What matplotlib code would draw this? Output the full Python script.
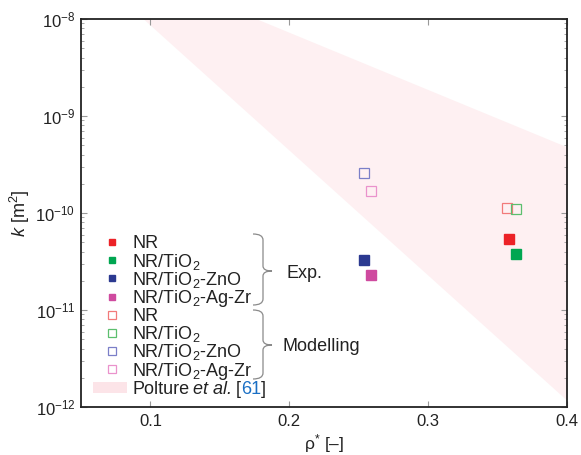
import numpy as np
import matplotlib
matplotlib.use("Agg")
import matplotlib.pyplot as plt
from matplotlib.path import Path
from matplotlib.patches import PathPatch, Rectangle

plt.rcParams['font.family'] = ['Liberation Sans', 'DejaVu Sans']
plt.rcParams['mathtext.fontset'] = 'custom'
plt.rcParams['mathtext.rm'] = 'Liberation Sans'
plt.rcParams['mathtext.it'] = 'Liberation Sans:italic'
plt.rcParams['mathtext.bf'] = 'Liberation Sans:bold'

# --- data ---
rho_exp = [0.358, 0.363, 0.254, 0.259]
k_exp = [5.4e-11, 3.8e-11, 3.3e-11, 2.3e-11]
rho_mod = [0.357, 0.363, 0.254, 0.259]
k_mod = [1.12e-10, 1.11e-10, 2.57e-10, 1.70e-10]

labels = ['NR', 'NR/TiO$_2$', 'NR/TiO$_2$-ZnO', 'NR/TiO$_2$-Ag-Zr']
fill_colors = ['#ec2227', '#00a651', '#2b3990', '#cf4a9f']
open_colors = ['#f27a7a', '#5cbf6e', '#7b7fc8', '#ea92cc']

# Polture et al. band (edges in rho, k)
band_rho = [0.05, 0.4]
band_low = [3.8e-8, 1.17e-12]
band_high = [5.6e-8, 4.8e-10]
band_color = '#fef0f2'

W, H = 581, 455
fig = plt.figure(figsize=(W / 100, H / 100), dpi=100)
ax_l, ax_r, ax_t, ax_b = 81, 567, 19, 407
ax = fig.add_axes([ax_l / W, (H - ax_b) / H, (ax_r - ax_l) / W, (ax_b - ax_t) / H])


def to_ax(px, py):
    """pixel position in the figure -> axes fraction"""
    return (px - ax_l) / (ax_r - ax_l), (ax_b - py) / (ax_b - ax_t)


ax.set_yscale('log')
ax.fill_between(band_rho, band_low, band_high, color=band_color, lw=0, zorder=0)

for i in range(4):
    ax.plot(rho_exp[i], k_exp[i], 's', ms=6.5, color=fill_colors[i], mec=fill_colors[i], zorder=3)
    ax.plot(rho_mod[i], k_mod[i], 's', ms=7, mfc='none', mec=open_colors[i], mew=0.9, zorder=3)

ax.set_xlim(0.05, 0.4)
ax.set_ylim(1e-12, 1e-8)
ax.set_xticks([0.1, 0.2, 0.3, 0.4])
ax.set_xticklabels(['0.1', '0.2', '0.3', '0.4'])
ax.tick_params(which='both', direction='in', top=True, right=True, color='#999999',
               labelsize=12, labelcolor='#222222')
ax.tick_params(axis='x', pad=5)
ax.tick_params(axis='y', pad=4)
ax.tick_params(which='major', length=4, width=0.8)
ax.tick_params(which='minor', length=2.5, width=0.6)
ax.tick_params(axis='x', which='minor', bottom=False, top=False)
for s in ax.spines.values():
    s.set_linewidth(1.3)
    s.set_color('#222222')

ax.set_xlabel('ρ$^{*}$ [–]', fontsize=12.5, color='#222222')
ax.set_ylabel('$k$ [m$^2$]', fontsize=13, color='#222222')
ax.xaxis.set_label_coords(0.5, to_ax(0, 432)[1])
ax.yaxis.set_label_coords(to_ax(32, 0)[0], 0.5)

# --- hand-made legend ---
fs = 13
tc = '#222222'
row0, dy = 242, 18.2
mx, tx = 111.7, 132
for i in range(8):
    py = row0 + dy * i
    xa, ya = to_ax(mx, py)
    if i < 4:
        ax.plot(xa, ya, 's', ms=5, color=fill_colors[i], transform=ax.transAxes, clip_on=False)
        lab = labels[i]
    else:
        ax.plot(xa, ya, 's', ms=5.5, mfc='none', mec=open_colors[i - 4], mew=0.9,
                transform=ax.transAxes, clip_on=False)
        lab = labels[i - 4]
    bx, by = to_ax(tx, py + 6.3)
    ax.text(bx, by, lab, fontsize=fs, color=tc, va='baseline', transform=ax.transAxes)

# last row: Polture et al. [61] with the reference number in blue
py = row0 + dy * 8
x0, y0 = to_ax(93, 393)
x1, y1 = to_ax(127, 382)
ax.add_patch(Rectangle((x0, y0), x1 - x0, y1 - y0, transform=ax.transAxes,
                       color='#fce4e8', lw=0))
pieces = [('Polture', tc, 'normal', 0), ('et al.', tc, 'italic', 4),
          ('[', tc, 'normal', 4), ('61', '#1a6fc4', 'normal', 0), (']', tc, 'normal', 0)]
renderer = fig.canvas.get_renderer()
cur_px = tx
base_py = py + 6.3
for txt, col, sty, gap in pieces:
    cur_px += gap
    bx, by = to_ax(cur_px, base_py)
    t = ax.text(bx, by, txt, fontsize=fs, color=col, style=sty, va='baseline',
                transform=ax.transAxes)
    ext = t.get_window_extent(renderer)
    cur_px += ext.width


def brace(xl, xv, xp, ytop, ymid, ybot):
    pts = [(xl, ytop), (xv, ytop), (xv, ytop + 6),
           (xv, ymid - 5),
           (xv, ymid), (xp, ymid),
           (xv, ymid), (xv, ymid + 5),
           (xv, ybot - 6),
           (xv, ybot), (xl, ybot)]
    codes = [Path.MOVETO, Path.CURVE3, Path.CURVE3, Path.LINETO,
             Path.CURVE3, Path.CURVE3, Path.CURVE3, Path.CURVE3,
             Path.LINETO, Path.CURVE3, Path.CURVE3]
    verts = [to_ax(*p) for p in pts]
    ax.add_patch(PathPatch(Path(verts, codes), fill=False, ec='#8a8a8a', lw=0.9,
                           transform=ax.transAxes, clip_on=False))


brace(253, 263, 272, 234, 271, 305)
brace(253, 263, 272, 310, 345, 379)

ex, ey = to_ax(286, 278)
ax.text(ex, ey, 'Exp.', fontsize=fs, color=tc, va='baseline', transform=ax.transAxes)
mx2, my2 = to_ax(283, 351)
ax.text(mx2, my2, 'Modelling', fontsize=fs, color=tc, va='baseline', transform=ax.transAxes)

fig.savefig('out.png', dpi=100)
